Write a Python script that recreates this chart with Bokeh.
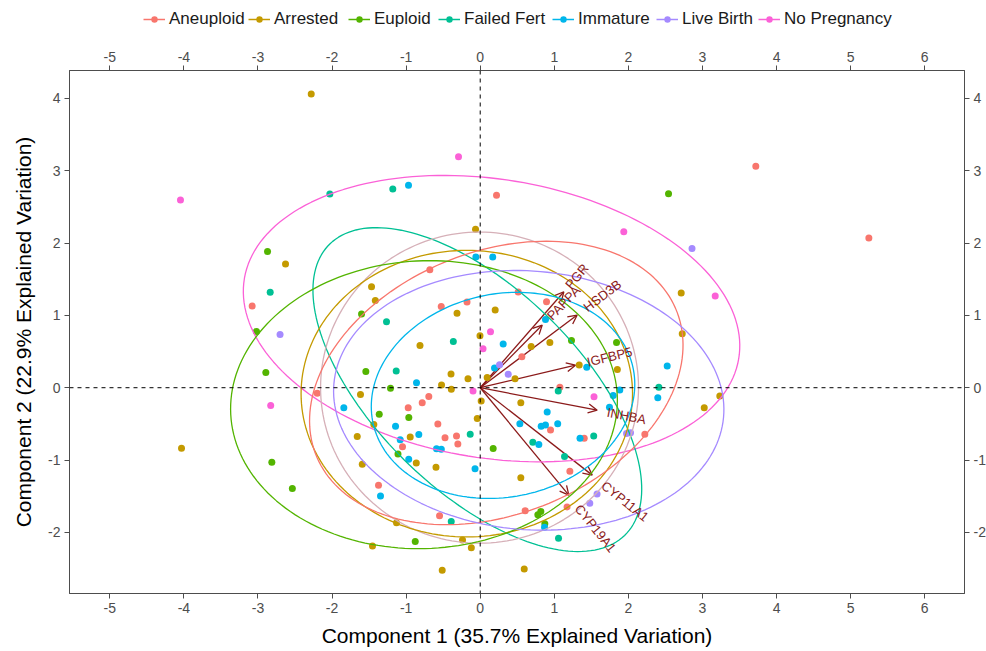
import numpy as np
from bokeh.plotting import figure
from bokeh.layouts import column
from bokeh.models import (ColumnDataSource, LinearAxis, FixedTicker, Span, Arrow, PrintfTickFormatter,
                          OpenHead, Legend, LegendItem, Range1d)
from bokeh.core.properties import value
from bokeh.embed import file_html
from bokeh.resources import INLINE

FONT = "Liberation Sans"

groups = ["Aneuploid", "Arrested", "Euploid", "Failed Fert", "Immature", "Live Birth", "No Pregnancy"]
group_colors = ["#F8766D", "#C49A00", "#53B400", "#00C094", "#00B6EB", "#A58AFF", "#FB61D7"]

aneuploid_x = [3.720, 5.246, 0.220, -0.680, -3.078, -0.526, -0.178, 0.513, 0.895, 0.562, -2.200, -0.972,
               -0.783, -0.694, -0.572, -0.475, -0.320, -0.302, -1.049, -1.373, -0.549, 1.075, 0.949, 1.404,
               2.222, 1.210, 1.172, 0.607]
aneuploid_y = [3.060, 2.068, 2.659, 1.630, 1.128, 1.121, 1.183, 1.322, 1.188, 0.427, -0.075, -0.278,
               -0.209, -0.120, -0.503, -0.693, -0.669, -0.777, -0.817, -1.347, -1.768, 0.008, -0.586, -0.697,
               -0.644, -1.153, -1.647, -1.699]

arrested_x = [-2.281, -0.063, -2.628, -1.467, -1.416, -0.313, -0.813, -0.003, -0.394, -0.165, 0.094, -0.522,
              -0.390, -1.616, 0.013, -0.040, -1.436, -1.660, -0.945, -4.032, -1.592, -0.863, -0.597, -1.130,
              -0.239, -1.454, -0.120, -0.513, 0.202, 0.688, 0.940, 1.336, 1.851, 0.470, 0.548, 0.548,
              0.594, 2.713, 2.727, 3.234, 3.024]
arrested_y = [4.059, 2.189, 1.709, 1.395, 1.207, 1.029, 0.585, 0.718, 0.188, 0.123, 0.140, 0.036,
              -0.022, -0.095, -0.185, -0.427, -0.507, -0.673, -0.680, -0.835, -1.059, -1.040, -1.098, -1.865,
              -2.103, -2.186, -2.213, -2.522, 1.073, 0.571, 0.626, 0.315, 0.253, 0.123, -0.209, -1.246,
              -2.504, 1.308, 0.745, -0.116, -0.278]

euploid_x = [2.542, -2.871, -3.020, -1.602, -2.894, -1.544, -1.211, -1.363, -0.964, -1.110, -2.813, -2.536,
             -0.877, 1.232, 1.840, 0.175, 0.818, 0.778, 0.872]
euploid_y = [2.681, 1.884, 0.776, 1.018, 0.209, 0.225, -0.006, -0.365, -0.411, -0.915, -1.031, -1.392,
             -2.125, 0.654, 0.626, -0.839, -1.710, -1.757, -1.879]

failed_fert_x = [-2.030, -1.180, -2.835, -1.265, -0.363, -1.134, -0.135, -0.391, 1.053, 2.411, 0.710, 1.532,
                 1.138, 1.057]
failed_fert_y = [2.677, 2.746, 1.318, 0.910, 0.637, 0.230, -0.644, -1.848, -0.047, 0.006, -0.755, -0.666,
                 -0.950, -2.079]

immature_x = [-0.968, -0.059, 0.169, -0.860, -1.841, -1.143, -0.829, -1.080, -0.590, -0.525, -0.965, -0.070,
              -1.346, 0.881, 0.310, 0.193, 1.438, 2.524, 1.795, 1.884, 2.397, 0.904, 1.745, 0.535,
              0.823, 0.881, 1.046, 0.791, 1.347, 0.868]
immature_y = [2.797, 1.806, 1.806, 0.068, -0.278, -0.531, -0.646, -0.718, -0.842, -0.849, -0.987, -1.121,
              -1.496, 0.944, 0.603, 0.271, 0.282, 0.301, -0.106, -0.033, -0.138, -0.335, -0.271, -0.498,
              -0.531, -0.514, -0.499, -0.784, -0.697, -1.927]

live_birth_x = [-2.702, 2.859, 0.261, 0.378, 1.975, 2.029, 1.577, 1.479]
live_birth_y = [0.734, 1.923, 0.319, 0.185, -0.632, -0.624, -1.468, -1.598]

no_pregnancy_x = [-0.293, -4.046, 1.938, 3.172, 0.139, 0.038, -0.097, -2.828, 1.536]
no_pregnancy_y = [3.192, 2.594, 2.155, 1.266, 0.773, 0.538, -0.044, -0.245, -0.126]

group_x = [aneuploid_x, arrested_x, euploid_x, failed_fert_x, immature_x, live_birth_x, no_pregnancy_x]
group_y = [aneuploid_y, arrested_y, euploid_y, failed_fert_y, immature_y, live_birth_y, no_pregnancy_y]

# normal-probability ellipses (centre, semi-axes, rotation in degrees)
ellipse_names = ["No Pregnancy", "Failed Fert", "All", "Arrested", "Aneuploid", "Euploid", "Live Birth", "Immature"]
ellipse_colors = ["#FB61D7", "#00C094", "#D6B0B8", "#C49A00", "#F8766D", "#53B400", "#A58AFF", "#00B6EB"]
ellipse_cx = [0.153, -0.039, -0.009, -0.181, 0.217, -0.759, 0.655, 0.308]
ellipse_cy = [0.955, -0.026, 0.001, -0.082, 0.066, -0.234, -0.174, -0.106]
ellipse_a = [3.382, 2.831, 2.146, 2.237, 2.630, 2.612, 2.640, 1.796]
ellipse_b = [1.925, 1.385, 2.150, 1.980, 1.809, 1.988, 1.786, 1.402]
ellipse_angle = [-9.5, -45.4, 0.0, 0.0, 23.15, 3.0, -5.1, 12.9]

# variable loadings (arrows)
var_names = ["PAPPA", "PGR", "HSD3B", "IGFBP5", "INHBA", "CYP11A1", "CYP19A1"]
var_x = [0.837, 1.129, 1.309, 1.286, 1.579, 1.512, 1.196]
var_y = [0.866, 1.326, 1.004, 0.312, -0.310, -1.208, -1.485]

x_ticks = [-5, -4, -3, -2, -1, 0, 1, 2, 3, 4, 5, 6]
y_ticks = [-2, -1, 0, 1, 2, 3, 4]

# ---------------- main biplot ----------------
p = figure(frame_width=895, frame_height=523,
           x_range=Range1d(-5.544, 6.537), y_range=Range1d(-2.844, 4.384),
           output_backend="svg", toolbar_location=None,
           min_border_left=69, min_border_right=22, min_border_top=28, min_border_bottom=58,
           background_fill_color="white", border_fill_color="white")
p.xgrid.visible = False
p.ygrid.visible = False
p.outline_line_color = "#4D4D4D"
p.outline_line_width = 1

bottom_axis = p.below[0]
left_axis = p.left[0]
top_axis = LinearAxis()
right_axis = LinearAxis()
p.add_layout(top_axis, "above")
p.add_layout(right_axis, "right")

for ax in [bottom_axis, top_axis]:
    ax.ticker = FixedTicker(ticks=x_ticks)
for ax in [left_axis, right_axis]:
    ax.ticker = FixedTicker(ticks=y_ticks)

for ax in [bottom_axis, left_axis, top_axis, right_axis]:
    ax.formatter = PrintfTickFormatter(format="%d")
    ax.axis_line_color = "#4D4D4D"
    ax.major_tick_line_color = "#4D4D4D"
    ax.major_tick_out = 5
    ax.major_tick_in = 0
    ax.minor_tick_out = 0
    ax.minor_tick_in = 0
    ax.major_label_standoff = 4
    ax.major_label_text_font = FONT
    ax.major_label_text_font_size = "14px"
    ax.major_label_text_color = "#4D4D4D"
    ax.axis_label_text_font = FONT
    ax.axis_label_text_font_size = "21px"
    ax.axis_label_text_font_style = "normal"
    ax.axis_label_text_color = "black"

bottom_axis.axis_label = "Component 1 (35.7% Explained Variation)"
bottom_axis.axis_label_standoff = 8
left_axis.axis_label = "Component 2 (22.9% Explained Variation)"
left_axis.axis_label_standoff = 10
left_axis.major_label_orientation = "horizontal"

# arrows (drawn beneath the points)
arrow_src = ColumnDataSource(dict(x0=[0.0] * len(var_x), y0=[0.0] * len(var_y), x1=var_x, y1=var_y))
arrows = Arrow(end=OpenHead(size=9, line_color="#8B1A1A", line_width=1.3),
               x_start="x0", y_start="y0", x_end="x1", y_end="y1", source=arrow_src,
               line_color="#8B1A1A", line_width=1.3, level="underlay")
p.add_layout(arrows)

# points
for name, col, xs, ys in zip(groups, group_colors, group_x, group_y):
    src = ColumnDataSource(dict(x=xs, y=ys))
    p.scatter("x", "y", source=src, size=7, fill_color=col, line_color=None)

# zero lines
p.add_layout(Span(location=0, dimension="height", line_color="black", line_width=1, line_dash="4 4"))
p.add_layout(Span(location=0, dimension="width", line_color="black", line_width=1, line_dash="4 4"))

# ellipses
t = np.linspace(0, 2 * np.pi, 181)
for col, cx, cy, a, b, ang in zip(ellipse_colors, ellipse_cx, ellipse_cy, ellipse_a, ellipse_b, ellipse_angle):
    th = np.deg2rad(ang)
    ex = cx + a * np.cos(t) * np.cos(th) - b * np.sin(t) * np.sin(th)
    ey = cy + a * np.cos(t) * np.sin(th) + b * np.sin(t) * np.cos(th)
    p.line(ex, ey, line_color=col, line_width=1.3)

# variable labels
ang = np.arctan2(np.array(var_y), np.array(var_x))
shift = 0.25 * 8.0 * np.array([len(n) for n in var_names])
lab_src = ColumnDataSource(dict(x=var_x, y=var_y, text=var_names, angle=ang,
                                dx=shift * np.cos(ang), dy=-shift * np.sin(ang)))
p.text(x="x", y="y", text="text", angle="angle", x_offset="dx", y_offset="dy", source=lab_src,
       text_font=value(FONT), text_font_size="13px", text_color="#8B1A1A",
       text_align="left", text_baseline="middle")

# ---------------- legend strip on top ----------------
lg = figure(width=986, height=42, x_axis_type=None, y_axis_type=None,
            x_range=Range1d(0, 1), y_range=Range1d(0, 1),
            output_backend="svg", toolbar_location=None,
            min_border=0, outline_line_color=None,
            background_fill_color="white", border_fill_color="white")
lg.xgrid.visible = False
lg.ygrid.visible = False

legend_left_px = [74, 179, 279, 369, 483, 587, 689]   # offsets of each legend key from the frame's left edge
for name, col, lx in zip(groups, group_colors, legend_left_px):
    # renderers hold one off-screen point so that their legend keys are drawn
    r_line = lg.line(x=[-5, -4], y=[-5, -5], line_color=col, line_width=1.5)
    r_pt = lg.scatter(x=[-5], y=[-5], size=7, fill_color=col, line_color=None)
    leg = Legend(items=[LegendItem(label=name, renderers=[r_line, r_pt])],
                 orientation="horizontal", location=(lx, 13),
                 label_text_font=FONT, label_text_font_size="17px", label_text_color="#1A1A1A",
                 glyph_width=22, glyph_height=16, label_standoff=4, spacing=0,
                 padding=0, margin=0, border_line_color=None, background_fill_alpha=0)
    lg.add_layout(leg, "center")

layout = column(lg, p, spacing=0)
open("out.html", "w").write(file_html(layout, INLINE))
